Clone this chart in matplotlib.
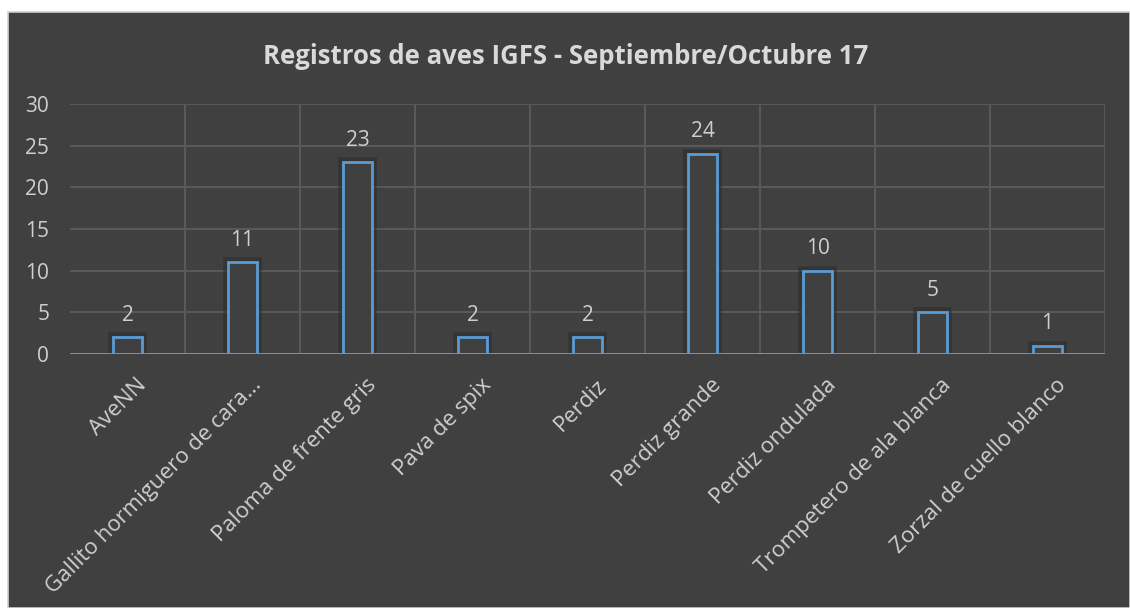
import matplotlib
matplotlib.use("Agg")
import matplotlib.pyplot as plt
import matplotlib.patheffects as pe
from matplotlib.patches import Rectangle
import numpy as np

categories = [
    "AveNN",
    "Gallito hormiguero de cara...",
    "Paloma de frente gris",
    "Pava de spix",
    "Perdiz",
    "Perdiz grande",
    "Perdiz ondulada",
    "Trompetero de ala blanca",
    "Zorzal de cuello blanco",
]
counts = [2, 11, 23, 2, 2, 24, 10, 5, 1]
y_ticks = [0, 5, 10, 15, 20, 25, 30]
title = "Registros de aves IGFS - Septiembre/Octubre 17"

BG = "#404040"
GRID = "#5a5a5a"
TEXT = "#d9d9d9"
LABEL = "#cfcfcf"
BLUE = "#5b9bd5"
FONT = "Open Sans"

W, H = 1130, 608
fig = plt.figure(figsize=(W / 100, H / 100), dpi=100)
fig.patch.set_facecolor("white")
fig.patches.append(Rectangle((8 / W, 0), 1 - 8 / W, 1 - 12 / H, transform=fig.transFigure,
                             facecolor=BG, edgecolor="#d0d0d0", linewidth=1.2, zorder=-10))

ax = fig.add_axes([70 / W, 1 - 354 / H, (1105 - 70) / W, (354 - 104) / H])
ax.set_facecolor(BG)
ax.set_zorder(1)

x = np.arange(len(categories))
bars = ax.bar(x, counts, width=0.25, facecolor=BG, edgecolor=BLUE, linewidth=2, zorder=3)
for b in bars:
    b.set_path_effects([pe.Stroke(linewidth=7, foreground="#2b2b2b", alpha=0.55), pe.Normal()])

# value labels above each bar
for xi, v in zip(x, counts):
    ax.annotate(str(v), (xi, v), xytext=(0, 12), textcoords="offset points",
                ha="center", va="baseline", color=LABEL, fontsize=15, family=FONT)

ax.set_xlim(-0.5, len(categories) - 0.5)
ax.set_ylim(0, 30)
ax.set_yticks(y_ticks)
ax.set_yticklabels([str(t) for t in y_ticks], color=LABEL, fontsize=15, family=FONT)
ax.tick_params(axis="y", length=0, pad=15)
ax.tick_params(axis="x", length=0)

for t in y_ticks[1:]:
    ax.axhline(t, color=GRID, linewidth=1.4, zorder=1)
for b in np.arange(0.5, len(categories), 1.0):
    ax.axvline(b, color=GRID, linewidth=1.4, zorder=1)
ax.axhline(0, color=BLUE, linewidth=1.4, zorder=4)

for s in ax.spines.values():
    s.set_visible(False)

# rotated category labels, right end under the bar
ax.set_xticks(x)
ax.set_xticklabels([])
for xi, lab in zip(x, categories):
    ax.annotate(lab, (xi, 0), xytext=(6, -15), textcoords="offset points",
                rotation=45, rotation_mode="anchor", ha="right", va="top",
                color=LABEL, fontsize=16, family=FONT, annotation_clip=False)

fig.text(0.5005, 1 - 57 / H, title, ha="center", va="center", color=TEXT,
         fontsize=18.5, fontweight="bold", family=FONT)

fig.savefig("out.png", dpi=100, facecolor=fig.get_facecolor())
